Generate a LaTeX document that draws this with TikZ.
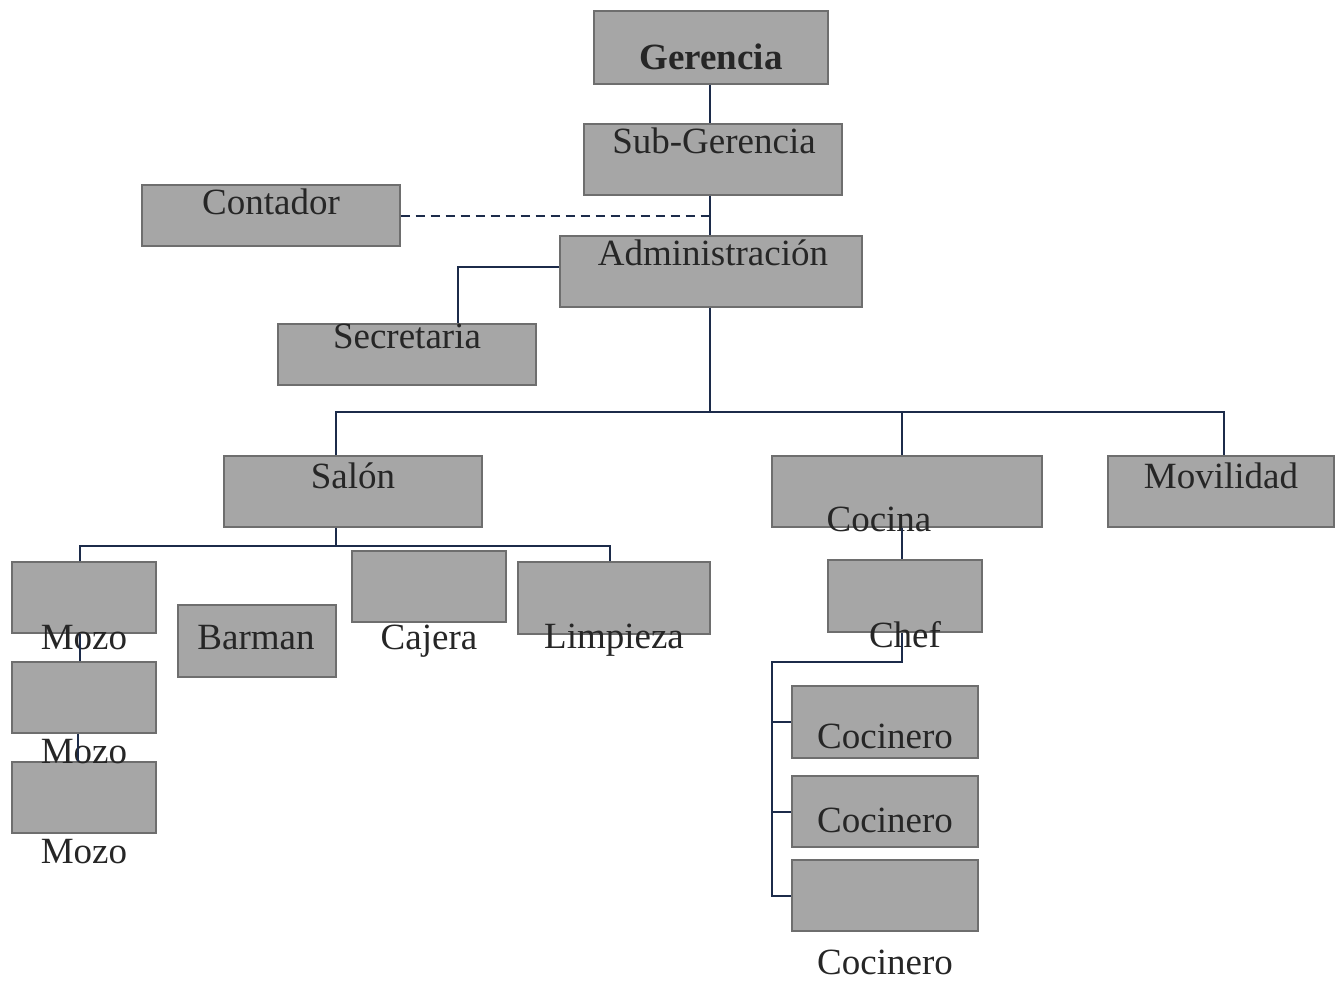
\documentclass[tikz,border=0pt]{standalone}
\usepackage{fontspec}
\setmainfont{Liberation Serif}
\usetikzlibrary{positioning}

\definecolor{boxfill}{HTML}{A6A6A6}
\definecolor{boxline}{HTML}{6E6E6E}
\definecolor{wirecol}{HTML}{1C2B4A}
\definecolor{txtcol}{HTML}{262626}

\tikzset{
  box/.style={draw=boxline, line width=1.1pt, fill=boxfill, rectangle, inner sep=0pt},
  txt/.style={anchor=base, inner sep=0pt, text=txtcol, font=\fontsize{37}{40}\selectfont},
  wire/.style={draw=wirecol, line width=1.7pt},
  dwire/.style={wire, dashed, dash pattern=on 9pt off 6pt}
}

\begin{document}
\begin{tikzpicture}[x=1pt, y=-1pt]
                \useasboundingbox (0,0) rectangle (1342,981);
                % Boxes:
                \node[box, minimum width=234pt, minimum height=73pt] (ger) at (711,47.5) {};
                \node[box, minimum width=258pt, minimum height=71pt] (sub) at (713,159.5) {};
                \node[box, minimum width=258pt, minimum height=61pt] (cont) at (271,215.5) {};
                \node[box, minimum width=302pt, minimum height=71pt] (adm) at (711,271.5) {};
                \node[box, minimum width=258pt, minimum height=61pt] (secr) at (407,354.5) {};
                \node[box, minimum width=258pt, minimum height=71pt] (salon) at (353,491.5) {};
                \node[box, minimum width=270pt, minimum height=71pt] (cocina) at (907,491.5) {};
                \node[box, minimum width=226pt, minimum height=71pt] (movil) at (1221,491.5) {};
                \node[box, minimum width=144pt, minimum height=71pt] (mozoA) at (84,597.5) {};
                \node[box, minimum width=144pt, minimum height=71pt] (mozoB) at (84,697.5) {};
                \node[box, minimum width=144pt, minimum height=71pt] (mozoC) at (84,797.5) {};
                \node[box, minimum width=158pt, minimum height=72pt] (barman) at (257,641) {};
                \node[box, minimum width=154pt, minimum height=71pt] (cajera) at (429,586.5) {};
                \node[box, minimum width=192pt, minimum height=72pt] (limp) at (614,598) {};
                \node[box, minimum width=154pt, minimum height=72pt] (chef) at (905,596) {};
                \node[box, minimum width=186pt, minimum height=72pt] (cocA) at (885,722) {};
                \node[box, minimum width=186pt, minimum height=71pt] (cocB) at (885,811.5) {};
                \node[box, minimum width=186pt, minimum height=71pt] (cocC) at (885,895.5) {};
                % Texts:
                \node[txt, font=\bfseries\fontsize{37}{40}\selectfont] (tger) at (711,70) {Gerencia};
                \node[txt] (tsub) at (714,154) {Sub-Gerencia};
                \node[txt] (tcont) at (271,215) {Contador};
                \node[txt] (tadm) at (713,266) {Administración};
                \node[txt] (tsecr) at (407,349) {Secretaria};
                \node[txt] (tsalon) at (353,489) {Salón};
                \node[txt] (tcocina) at (879,531) {Cocina};
                \node[txt] (tmovil) at (1221,489) {Movilidad};
                \node[txt] (tmozoA) at (84,649) {Mozo};
                \node[txt] (tmozoB) at (84,763) {Mozo};
                \node[txt] (tmozoC) at (84,863) {Mozo};
                \node[txt] (tbarman) at (256,649) {Barman};
                \node[txt] (tcajera) at (429,649) {Cajera};
                \node[txt] (tlimp) at (614,648) {Limpieza};
                \node[txt] (tchef) at (905,647) {Chef};
                \node[txt] (tcocA) at (885,748) {Cocinero};
                \node[txt] (tcocB) at (885,832) {Cocinero};
                \node[txt] (tcocC) at (885,974) {Cocinero};
                % Wires:
                \coordinate (busL) at (336,412);
                \coordinate (busR) at (1224,412);
                \coordinate (salL) at (80,546);
                \coordinate (salR) at (610,546);
                \coordinate (chefL) at (772,662);
                \draw[wire] (ger.south -| 710,0) -- (sub.north -| 710,0);
                \draw[wire] (sub.south -| 710,0) -- (adm.north -| 710,0);
                \draw[dwire] (cont.east |- 0,216) -- (710,216);
                \draw[wire] (adm.west |- 0,267) -| (secr.north -| 458,0);
                \draw[wire] (adm.south -| 710,0) -- (710,412);
                \draw[wire] (salon.north -| busL) -- (busL) -- (busR) -- (movil.north -| busR);
                \draw[wire] (902,412) -- (cocina.north -| 902,0);
                \draw[wire] (salon.south -| busL) -- (336,546);
                \draw[wire] (mozoA.north -| salL) -- (salL) -- (salR) -- (limp.north -| salR);
                \draw[wire] (mozoA.south -| salL) -- (mozoB.north -| salL);
                \draw[wire] (mozoB.south -| 78,0) -- (mozoC.north -| 78,0);
                \draw[wire] (cocina.south -| 902,0) -- (chef.north -| 902,0);
                \draw[wire] (chef.south -| 902,0) -- (902,662) -- (chefL) -- (772,896) -- (cocC.west |- 0,896);
                \draw[wire] (772,722) -- (cocA.west |- 0,722);
                \draw[wire] (772,812) -- (cocB.west |- 0,812);
            \end{tikzpicture}
\end{document}
